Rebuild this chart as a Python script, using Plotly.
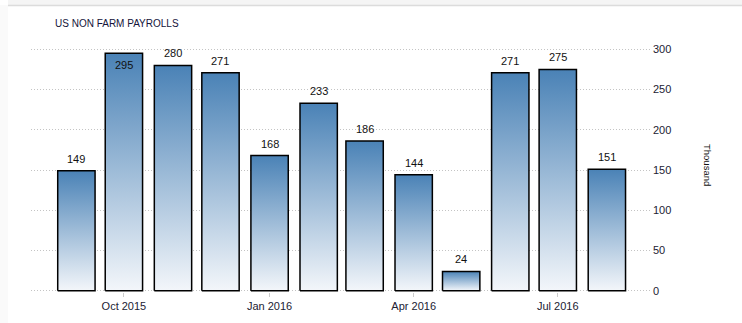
import plotly.graph_objects as go
import pandas as pd

# ---- data ----
months = ["2015-09-01", "2015-10-01", "2015-11-01", "2015-12-01", "2016-01-01", "2016-02-01",
          "2016-03-01", "2016-04-01", "2016-05-01", "2016-06-01", "2016-07-01", "2016-08-01"]
payrolls = [149, 295, 280, 271, 168, 233, 186, 144, 24, 271, 275, 151]
tick_dates = ["2015-10-01", "2016-01-01", "2016-04-01", "2016-07-01"]
tick_labels = ["Oct 2015", "Jan 2016", "Apr 2016", "Jul 2016"]
y_ticks = [0, 50, 100, 150, 200, 250, 300]
title_text = "US NON FARM PAYROLLS"
unit_text = "Thousand"

W, H = 742, 323
L, R, T, B = 31, 90, 48, 31
pw, ph = W - L - R, H - T - B
# pixel helpers (y measured from top of the figure)
def px_x(p):
    return (p - L) / pw
def px_y(p):
    return (H - B - p) / ph

half = pd.Timedelta(hours=int(11.8 * 24))
fig = go.Figure()
for m, v in zip(months, payrolls):
    d = pd.Timestamp(m)
    xs = [d - half, d - half, d + half, d + half, d - half]
    ys = [0, v, v, 0, 0]
    fig.add_trace(go.Scatter(
        x=xs, y=ys, mode="lines", fill="toself",
        line=dict(color="#000000", width=1.5),
        fillgradient=dict(type="vertical",
                          colorscale=[[0, "#f3f6fa"], [1, "#4a82b6"]]),
        hoverinfo="skip", showlegend=False))

annotations = []
for m, v in zip(months, payrolls):
    inside = v > 290
    annotations.append(dict(
        x=m, y=v, xref="x", yref="y", text=str(v), showarrow=False,
        yanchor="top" if inside else "bottom", yshift=-4 if inside else 4,
        font=dict(family="Liberation Sans, Arial", size=11, color="#111111")))

annotations.append(dict(
    x=px_x(53), y=px_y(24), xref="paper", yref="paper",
    text=title_text, showarrow=False, xanchor="left", yanchor="middle",
    font=dict(family="Liberation Sans, Arial", size=10, color="#14143a")))
annotations.append(dict(
    x=px_x(708), y=px_y(165), xref="paper", yref="paper",
    text=unit_text, showarrow=False, textangle=90, xanchor="center", yanchor="middle",
    font=dict(family="Liberation Sans, Arial", size=9.5, color="#111111")))

shapes = [
    dict(type="rect", xref="paper", yref="paper",
         x0=px_x(8), x1=px_x(W + 2), y0=px_y(5), y1=px_y(-2),
         fillcolor="#f5f5f5", line=dict(width=0), layer="below"),
    dict(type="line", xref="paper", yref="paper",
         x0=px_x(8), x1=px_x(W + 2), y0=px_y(5.5), y1=px_y(5.5),
         line=dict(color="#dcdcdc", width=1.5)),
    dict(type="rect", xref="paper", yref="paper",
         x0=px_x(-2), x1=px_x(8), y0=px_y(H + 2), y1=px_y(5),
         fillcolor="#fafafa", line=dict(width=0), layer="below"),
]

fig.update_layout(
    width=W, height=H,
    margin=dict(l=L, r=R, t=T, b=B),
    paper_bgcolor="white", plot_bgcolor="white",
    annotations=annotations, shapes=shapes,
    xaxis=dict(type="date", range=["2015-08-03 08:00", "2016-08-29 12:00"],
               tickvals=tick_dates, ticktext=tick_labels,
               showgrid=False, zeroline=False, showline=False,
               ticks="outside", ticklen=4, tickcolor="#cccccc", tickwidth=1,
               tickfont=dict(family="Liberation Sans, Arial", size=11, color="#222233")),
    yaxis=dict(range=[-1.6, 301.6], side="right", tickvals=y_ticks,
               showgrid=True, gridcolor="#c4c4c4", griddash="1px,2px", gridwidth=1,
               zeroline=False, showline=False, ticks="",
               tickfont=dict(family="Liberation Sans, Arial", size=11, color="#222233")),
)

fig.write_html("out.html")
